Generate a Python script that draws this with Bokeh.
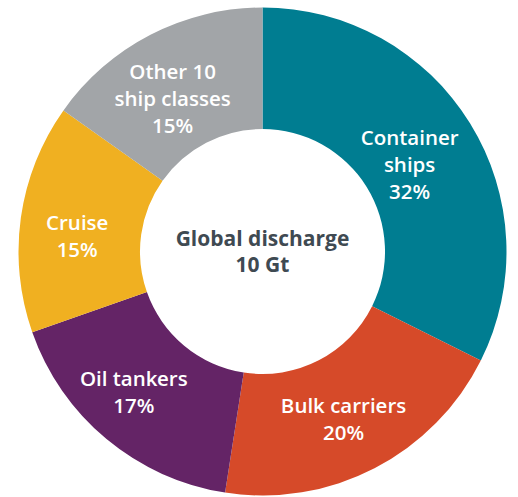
import math
from bokeh.plotting import figure
from bokeh.models import Range1d, ColumnDataSource
from bokeh.core.properties import value
from bokeh.embed import file_html
from bokeh.resources import INLINE

# ---- data ----
categories = ["Container\nships", "Bulk carriers", "Oil tankers", "Cruise", "Other 10\nship classes"]
shares = [32.4, 20.1, 17.2, 15.2, 15.2]
colors = ["#007D91", "#D64A29", "#642466", "#F0B021", "#A2A5A8"]
center_title = "Global discharge\n10 Gt"

# ---- layout ----
W, H = 518, 497
CX, CY = 262, 497 - 251
R_OUT, R_IN = 244, 122.5
label_r = [171, 186, 190, 186, 178]
label_dang = [1.1, 1.5, 2.9, -3.0, -3.0]  # degrees, clockwise tweak

p = figure(width=W, height=H, output_backend="svg", toolbar_location=None,
           x_range=Range1d(0, W), y_range=Range1d(497 - H, 497),
           min_border=0, outline_line_color=None, background_fill_color="white")
p.axis.visible = False
p.grid.visible = False

total = sum(shares)
starts, ends, lx, ly, texts = [], [], [], [], []
cum = 0.0
for i, v in enumerate(shares):
    a0 = cum / total
    cum += v
    a1 = cum / total
    starts.append(math.pi / 2 - a0 * 2 * math.pi)
    ends.append(math.pi / 2 - a1 * 2 * math.pi)
    mid = (a0 + a1) / 2 * 360 + label_dang[i]
    th = math.radians(mid)
    lx.append(CX + label_r[i] * math.sin(th))
    ly.append(CY + label_r[i] * math.cos(th))
    texts.append(f"{categories[i]}\n{round(v)}%")

src = ColumnDataSource(dict(start=starts, end=ends, color=colors))
p.annular_wedge(x=CX, y=CY, inner_radius=R_IN, outer_radius=R_OUT,
                start_angle="start", end_angle="end", direction="clock",
                fill_color="color", line_color=None, source=src)

lsrc = ColumnDataSource(dict(x=lx, y=ly, t=texts))
p.text(x="x", y="y", text="t", source=lsrc, text_color="white",
       text_font=value("Open Sans SemiBold"), text_font_size="20.5px",
       text_align="center", text_baseline="middle", text_line_height=0.96)

p.text(x=[CX], y=[CY + 0.5], text=[center_title], text_color="#3F4A52",
       text_font=value("Open Sans"), text_font_style="bold", text_font_size="21px",
       text_align="center", text_baseline="middle", text_line_height=0.93)

open("out.html", "w").write(file_html(p, INLINE))
